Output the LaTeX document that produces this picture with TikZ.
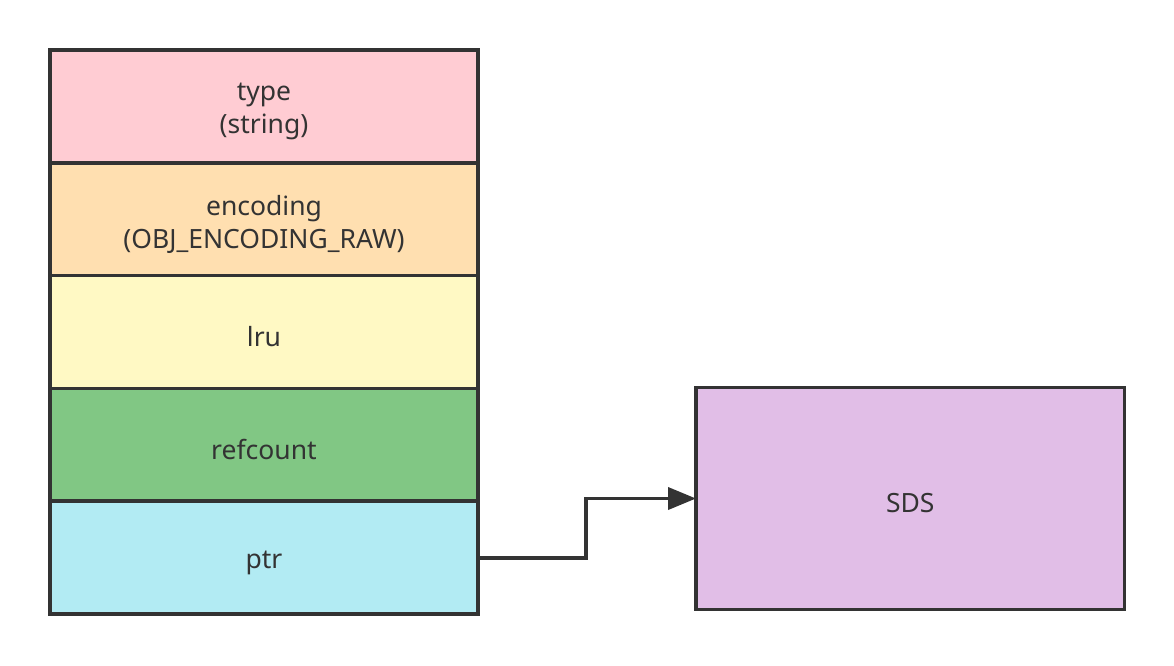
\documentclass[tikz,border=0pt]{standalone}
\usepackage{fontspec}
\setmainfont{Noto Sans}
\usepackage{tikz}
\usetikzlibrary{positioning,arrows.meta}

\definecolor{linegray}{HTML}{333333}
\definecolor{typepink}{HTML}{FFCCD3}
\definecolor{encorange}{HTML}{FFDFB0}
\definecolor{lruyellow}{HTML}{FFF9C4}
\definecolor{refgreen}{HTML}{81C784}
\definecolor{ptrcyan}{HTML}{B2EBF3}
\definecolor{sdspurple}{HTML}{E1BEE7}

\begin{document}
\begin{tikzpicture}[x=1pt,y=-1pt,
  field/.style={draw=linegray, line width=3.5pt, minimum width=428pt,
    minimum height=112.8pt, inner sep=0pt, outer sep=0pt},
  fieldtext/.style={label={[yshift=-5pt, align=center, text=linegray,
    font=\fontsize{26.5}{33}\selectfont]center:#1}},
  conn/.style={draw=linegray, line width=3.8pt,
    -{Triangle[length=28pt,width=22pt]}}]
  \useasboundingbox (0,0) rectangle (1174,665);

  % redisObject fields
  \node[field, fill=typepink, anchor=north west, fieldtext={type\\(string)}] (type) at (50,50) {};
  \node[field, fill=encorange, below=0pt of type, fieldtext={encoding\\(OBJ\_ENCODING\_RAW)}] (encoding) {};
  \node[field, fill=lruyellow, below=0pt of encoding, fieldtext={lru}] (lru) {};
  \node[field, fill=refgreen, below=0pt of lru, fieldtext={refcount}] (refcount) {};
  \node[field, fill=ptrcyan, below=0pt of refcount, fieldtext={ptr}] (ptr) {};

  % the string it points to
  \node[field, fill=sdspurple, anchor=north west, minimum width=428.5pt,
    minimum height=222pt, fieldtext={SDS}] (sds) at (696,387.5) {};

  \draw[conn] (ptr.east) -- ++(108,0) |- (sds.west);
\end{tikzpicture}
\end{document}
